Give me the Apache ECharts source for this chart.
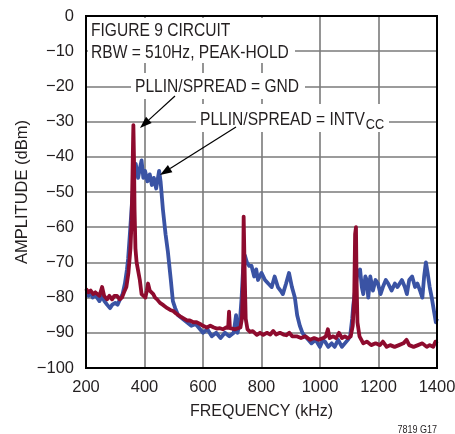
<!DOCTYPE html>
<html><head><meta charset="utf-8">
<script src="https://cdn.jsdelivr.net/npm/echarts@6/dist/echarts.min.js"></script>
<style>html,body{margin:0;padding:0;background:#fff}#c{width:455px;height:434px}</style>
</head><body><div id="c"></div>
<script>
// ---- data ----
const xTicks = [200, 400, 600, 800, 1000, 1200, 1400];
const yTicks = [0, -10, -20, -30, -40, -50, -60, -70, -80, -90, -100];

// PLLIN/SPREAD = INTVcc (spread spectrum, blue)
const blueFreq = [200,208,215,223,230,238,246,255,263,272,282,290,300,308,316,325,333,340,344,350,358,365,370,374,378,385,390,396,402,410,418,425,432,440,446,450,455,463,472,480,490,497,505,515,530,545,560,575,590,600,615,630,645,660,675,690,705,713,718,726,732,737,743,750,758,766,775,782,788,800,812,823,835,845,856,865,873,884,894,904,914,922,931,940,949,960,971,985,1000,1010,1017,1028,1040,1050,1062,1075,1085,1095,1103,1110,1114,1120,1128,1137,1143,1148,1155,1160,1165,1172,1181,1190,1198,1207,1215,1225,1233,1245,1256,1265,1280,1290,1297,1305,1315,1325,1333,1342,1350,1356,1362,1368,1375,1382,1390,1396,1400];
const blueAmp = [-79,-79.5,-78.5,-80,-79,-80,-81,-79.5,-81,-82,-83,-82,-81.5,-82,-80.5,-79,-76,-72,-69,-62,-52,-45,-42,-44,-46,-43,-41,-46,-44,-47,-45,-48,-46,-49,-46,-44,-47,-55,-62,-67,-75,-81,-83,-85,-86,-87,-88,-87.5,-89,-90,-89,-91,-90,-91.5,-90,-91,-90,-85,-90,-87,-80,-72,-68,-70,-71,-71,-74,-72,-75,-73,-75,-76,-77,-74,-77,-78,-79,-76,-73,-77,-80,-85,-88,-90,-91,-92,-93,-92,-94,-92,-92.5,-94,-93,-94,-92,-94,-93,-92,-91,-86,-82,-78,-73,-72,-77,-79,-74,-75,-80,-74,-78,-75,-76,-79,-77,-75,-76,-78,-76,-77,-75,-77,-79,-75,-74,-77,-76,-78,-80,-74,-70,-73,-77,-80,-84,-87,-86];

// PLLIN/SPREAD = GND (fixed frequency, red)
const redFreq = [200,208,216,225,232,238,246,255,262,272,280,289,297,306,315,323,330,338,345,352,356,359,361,362,364,366,369,373,378,384,390,396,403,408,412,418,424,430,436,443,453,462,470,478,488,498,508,516,525,535,545,555,567,578,590,600,613,625,637,648,658,668,678,686,689,692,700,710,720,728,733,737,739,741,743,746,752,761,770,784,795,806,818,830,840,850,863,875,885,895,905,920,935,950,966,980,995,1011,1020,1027,1033,1045,1055,1065,1075,1085,1095,1105,1112,1117,1120,1123,1125,1128,1135,1148,1160,1175,1190,1205,1215,1228,1240,1255,1270,1285,1296,1305,1320,1335,1350,1365,1375,1387,1395,1400];
const redAmp = [-77.5,-78.5,-78,-79,-78.5,-79,-79.5,-77,-79.5,-80.5,-79.5,-80.5,-79.5,-79.5,-80.5,-80,-78.5,-77,-73,-66,-58,-45,-35,-31,-40,-55,-66,-70,-70,-75,-79,-79,-80,-78,-76,-78,-77.5,-79,-80,-80.5,-81.5,-82,-82.5,-83,-83.5,-83.8,-84.5,-85,-85.5,-86,-86.5,-86.5,-87,-87,-87.5,-88,-88.5,-88,-88.5,-88.8,-88.7,-89,-88.5,-88.6,-84,-88.7,-88.8,-89,-88.7,-88.5,-86,-75,-57,-57,-75,-86,-89,-89.7,-89.5,-90.6,-90,-90.6,-90,-90.5,-89.5,-90.5,-90,-90.5,-90.7,-90,-91,-91,-91.5,-91,-92,-91.5,-92,-91.5,-91,-89,-91.5,-91,-91.5,-90,-91.5,-91,-91.5,-91,-88,-80,-62,-60,-75,-87,-91,-93,-92.5,-93.5,-93,-93.5,-92.5,-94,-93.5,-94,-93.5,-93,-92,-93.5,-94,-93.5,-93,-94,-93.5,-94,-92.5,-93];

// ---- styling ----
const FONT = '"Liberation Sans", Arial, sans-serif';
const TXT = '#231f20';
const BLUE = '#3a53a4';
const RED = '#8e0b2e';
const NARROW = 0.82;

function measure(text, size) {
  const ctx = document.createElement('canvas').getContext('2d');
  ctx.font = size + 'px ' + FONT;
  return ctx.measureText(text).width;
}
function pairs(xs, ys) { return xs.map((x, i) => [x, ys[i]]); }
function minus(v) { return v < 0 ? '\u2212' + Math.abs(v) : String(v); }

function arrow(x1, y1, x2, y2) {
  const ang = Math.atan2(y2 - y1, x2 - x1);
  const L = 12, W = 4.2;
  const bx = x2 - L * Math.cos(ang), by = y2 - L * Math.sin(ang);
  const px = -Math.sin(ang) * W, py = Math.cos(ang) * W;
  return [
    { type: 'line', z: 20, shape: { x1, y1, x2: bx, y2: by }, style: { stroke: '#000', lineWidth: 1.2 } },
    { type: 'polygon', z: 20, shape: { points: [[x2, y2], [bx + px, by + py], [bx - px, by - py]] }, style: { fill: '#000' } }
  ];
}
function txt(x, y, s, size, align) {
  return { type: 'text', z: 15, x, y, scaleX: NARROW, scaleY: 1,
    style: { text: s, font: size + 'px ' + FONT, fill: TXT, textAlign: align || 'left', textVerticalAlign: 'middle', verticalAlign: 'middle' } };
}
function box(x, y, w, h) {
  return { type: 'rect', z: 5, shape: { x, y, width: w, height: h }, style: { fill: '#fff' } };
}

const FS = 19;
const mainC = 'PLLIN/SPREAD = INTV';
const wC = measure(mainC, FS) * NARROW;

const graphic = [
  box(88, 18, 207, 45),
  box(131, 73, 174, 26),
  box(196, 104, 193, 28),
  txt(91, 30.5, 'FIGURE 9 CIRCUIT', FS),
  txt(91, 53, 'RBW = 510Hz, PEAK-HOLD', FS),
  txt(135, 86.5, 'PLLIN/SPREAD = GND', FS),
  txt(200, 119.5, mainC, FS),
  txt(200 + wC + 0.8, 124.5, 'CC', 15.5),
  ...arrow(175, 96, 140, 128),
  ...arrow(236, 127, 160, 175),
  txt(437, 429.5, '7819 G17', 11, 'right')
];

const chart = echarts.init(document.getElementById('c'), null, { renderer: 'canvas' });
chart.setOption({
  animation: false,
  backgroundColor: '#fff',
  grid: { left: 86, top: 16, right: 18, bottom: 66, show: true, borderColor: '#000', borderWidth: 2,
    backgroundColor: 'transparent', z: 30, containLabel: false, outerBoundsMode: 'none' },
  xAxis: {
    type: 'value', min: xTicks[0], max: xTicks[xTicks.length - 1], interval: 200,
    name: 'FREQUENCY (kHz)', nameLocation: 'middle', nameGap: 36, nameMoveOverlap: false,
    nameTextStyle: { fontFamily: FONT, fontSize: 16, color: TXT },
    axisLine: { show: true, lineStyle: { color: '#000', width: 2 } },
    axisTick: { show: false },
    axisLabel: { fontFamily: FONT, fontSize: 16.5, color: TXT, margin: 11, formatter: v => String(v) },
    splitLine: { show: true, lineStyle: { color: '#7a7a7a', width: 1.6 } }
  },
  yAxis: {
    type: 'value', min: yTicks[yTicks.length - 1], max: yTicks[0], interval: 10,
    name: 'AMPLITUDE (dBm)', nameLocation: 'middle', nameGap: 55, nameRotate: 90, nameMoveOverlap: false,
    nameTextStyle: { fontFamily: FONT, fontSize: 16.5, color: TXT },
    axisLine: { show: true, lineStyle: { color: '#000', width: 2 } },
    axisTick: { show: false },
    axisLabel: { fontFamily: FONT, fontSize: 16.5, color: TXT, margin: 12, formatter: minus },
    splitLine: { show: true, lineStyle: { color: '#7a7a7a', width: 1.6 } }
  },
  series: [
    { name: 'INTVCC', type: 'line', z: 3, showSymbol: false, symbol: 'none', data: pairs(blueFreq, blueAmp), lineStyle: { color: BLUE, width: 3.8, join: 'round' } },
    { name: 'GND', type: 'line', z: 4, showSymbol: false, symbol: 'none', data: pairs(redFreq, redAmp), lineStyle: { color: RED, width: 3.8, join: 'round' } }
  ],
  graphic
});
</script>
</body></html>
